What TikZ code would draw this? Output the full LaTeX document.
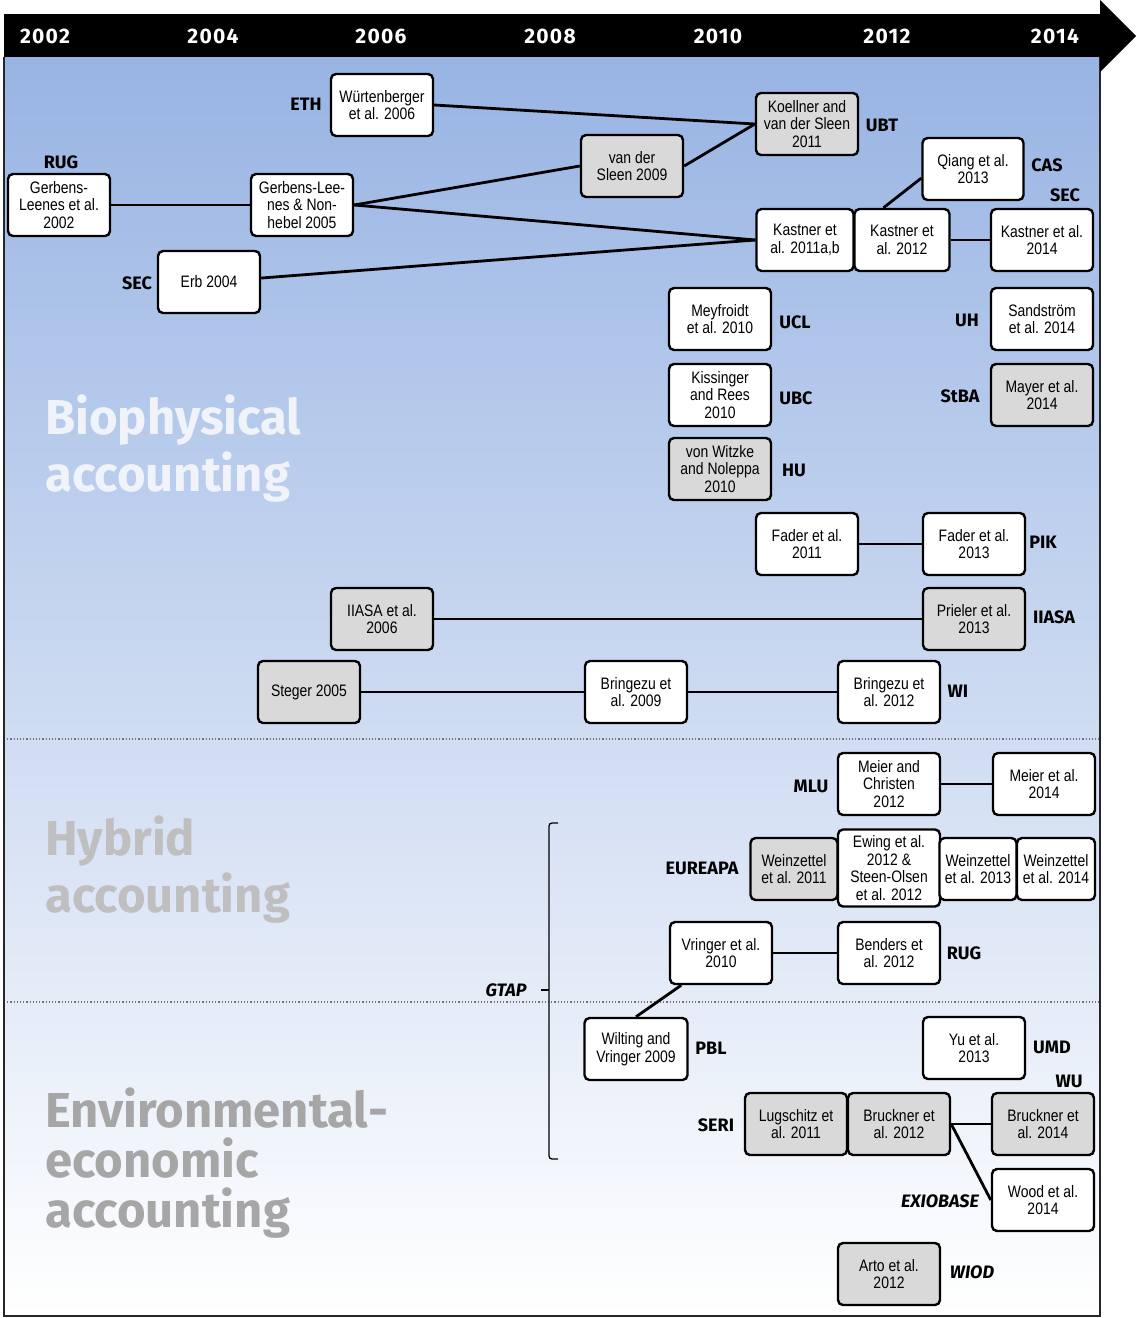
\documentclass[tikz,border=0pt]{standalone}
\usepackage{fontspec}
\setmainfont{Fira Sans}
\newfontfamily\boxfont[FakeStretch=0.84]{Liberation Sans}
\newfontfamily\yearfont[LetterSpace=6]{Fira Sans}
\usetikzlibrary{positioning}

\definecolor{bgtop}{RGB}{152,180,227}
\definecolor{bgmid}{RGB}{210,222,241}
\definecolor{paperbox}{RGB}{217,217,217}
\definecolor{biotext}{RGB}{240,244,250}
\definecolor{hybtext}{RGB}{191,191,191}
\definecolor{eeatext}{RGB}{166,166,166}

\tikzset{
    study/.style={draw, line width=2.4pt, rounded corners=5pt, fill=white,
        minimum width=102pt, minimum height=62pt, inner sep=1pt, align=center,
        font=\boxfont\fontsize{16.6}{17.8}\selectfont},
    gstudy/.style={study, fill=paperbox},
    inst/.style={font=\bfseries\fontsize{18}{20}\selectfont},
    dbase/.style={font=\bfseries\itshape\fontsize{18}{20}\selectfont},
    link/.style={line width=2.8pt},
    year/.style={text=white, font=\yearfont\bfseries\fontsize{21}{23}\selectfont},
    field/.style={anchor=north west, align=left, inner sep=0pt,
        font=\bfseries\fontsize{49}{57}\selectfont},
}

\begin{document}
\begin{tikzpicture}[x=1pt, y=-1pt]
    \useasboundingbox (0,0) rectangle (1136,1318);
    \shade[top color=bgtop, middle color=bgmid, bottom color=white] (4,57) rectangle (1100,1316);
    \draw[black!55, dotted, line width=1.2pt] (4,739) -- (1100,739);
    \draw[black!55, dotted, line width=1.2pt] (4,1002) -- (1100,1002);
    \draw[line width=2pt, black!85] (4,57) -- (4,1316) -- (1100,1316) -- (1100,57);

    \fill (4,14) rectangle (1100,57);
    \fill (1100,0) -- (1136,36) -- (1100,72) -- cycle;
    \node[year] (y02) at (45,36) {2002};
    \node[year] (y04) at (213,36) {2004};
    \node[year] (y06) at (381,36) {2006};
    \node[year] (y08) at (550,36) {2008};
    \node[year] (y10) at (718,36) {2010};
    \node[year] (y12) at (887,36) {2012};
    \node[year] (y14) at (1055,36) {2014};

    \node[field, text=biotext] (bio) at (45,395) {Biophysical\\accounting};
    \node[field, text=hybtext] (hyb) at (45,816) {Hybrid\\accounting};
    \node[field, text=eeatext, font=\bfseries\fontsize{49}{50}\selectfont] (eea) at (45,1088) {Environmental-\\economic\\accounting};

    \node[study] (wuert06) at (382,105) {Würtenberger\\et al. 2006};
    \node[gstudy] (koell11) at (807,124) {Koellner and\\van der Sleen\\2011};
    \node[gstudy] (vdsleen09) at (632,166) {van der\\Sleen 2009};
    \node[study] (gerb02) at (59,205) {Gerbens-\\Leenes et al.\\2002};
    \node[study] (gerb05) at (302,205) {Gerbens-Lee-\\nes \& Non-\\hebel 2005};
    \node[study, minimum width=101pt] (qiang13) at (973,169) {Qiang et al.\\2013};
    \node[study, minimum width=97pt] (kast11) at (805,240) {Kastner et\\al. 2011a,b};
    \node[study, minimum width=95pt] (kast12) at (902,240) {Kastner et\\al. 2012};
    \node[study] (kast14) at (1042,240) {Kastner et al.\\2014};
    \node[study] (erb04) at (209,282) {Erb 2004};
    \node[study] (meyf10) at (720,319) {Meyfroidt\\et al. 2010};
    \node[study] (sand14) at (1042,319) {Sandström\\et al. 2014};
    \node[study] (kiss10) at (720,395) {Kissinger\\and Rees\\2010};
    \node[gstudy] (mayer14) at (1042,395) {Mayer et al.\\2014};
    \node[gstudy] (witz10) at (720,469) {von Witzke\\and Noleppa\\2010};
    \node[study] (fader11) at (807,544) {Fader et al.\\2011};
    \node[study] (fader13) at (974,544) {Fader et al.\\2013};
    \node[gstudy] (iiasa06) at (382,619) {IIASA et al.\\2006};
    \node[gstudy] (prie13) at (974,619) {Prieler et al.\\2013};
    \node[gstudy] (steg05) at (309,692) {Steger 2005};
    \node[study] (bring09) at (636,692) {Bringezu et\\al. 2009};
    \node[study] (bring12) at (889,692) {Bringezu et\\al. 2012};

    \node[study] (meier12) at (889,784) {Meier and\\Christen\\2012};
    \node[study] (meier14) at (1044,784) {Meier et al.\\2014};
    \node[gstudy, minimum width=87pt] (wein11) at (794,869) {Weinzettel\\et al. 2011};
    \node[study, minimum height=77pt] (ewing12) at (889,868) {Ewing et al.\\2012 \&\\Steen-Olsen\\et al. 2012};
    \node[study, minimum width=77pt] (wein13) at (978,869) {Weinzettel\\et al. 2013};
    \node[study, minimum width=78pt] (wein14) at (1056,869) {Weinzettel\\et al. 2014};
    \node[study] (vring10) at (721,953) {Vringer et al.\\2010};
    \node[study] (bend12) at (889,953) {Benders et\\al. 2012};

    \node[study, minimum width=103pt] (wilt09) at (636,1049) {Wilting and\\Vringer 2009};
    \node[study] (yu13) at (974,1048) {Yu et al.\\2013};
    \node[gstudy] (lugs11) at (796,1124) {Lugschitz et\\al. 2011};
    \node[gstudy] (bruck12) at (899,1124) {Bruckner et\\al. 2012};
    \node[gstudy] (bruck14) at (1043,1124) {Bruckner et\\al. 2014};
    \node[study] (wood14) at (1043,1200) {Wood et al.\\2014};
    \node[gstudy] (arto12) at (889,1274) {Arto et al.\\2012};

    \node[inst] (lETH) at (306,104) {ETH};
    \node[inst] (lUBT) at (882,125) {UBT};
    \node[inst] (lRUG) at (61,162) {RUG};
    \node[inst] (lCAS) at (1047,165) {CAS};
    \node[inst] (lSEC) at (1065,195) {SEC};
    \node[inst] (lSECb) at (137,283) {SEC};
    \node[inst] (lUCL) at (795,322) {UCL};
    \node[inst] (lUH) at (967,320) {UH};
    \node[inst] (lUBC) at (796,398) {UBC};
    \node[inst] (lStBA) at (960,396) {StBA};
    \node[inst] (lHU) at (794,470) {HU};
    \node[inst] (lPIK) at (1043,542) {PIK};
    \node[inst] (lIIASA) at (1054,617) {IIASA};
    \node[inst] (lWI) at (958,691) {WI};
    \node[inst] (lMLU) at (811,786) {MLU};
    \node[inst] (lEUREAPA) at (702,868) {EUREAPA};
    \node[inst] (lRUGb) at (964,953) {RUG};
    \node[inst] (lPBL) at (711,1048) {PBL};
    \node[inst] (lUMD) at (1052,1047) {UMD};
    \node[inst] (lWU) at (1069,1081) {WU};
    \node[inst] (lSERI) at (716,1125) {SERI};
    \node[dbase] (lEXIO) at (940,1201) {EXIOBASE};
    \node[dbase] (lWIOD) at (972,1272) {WIOD};
    \node[dbase] (lGTAP) at (506,990) {GTAP};

    \draw[line width=1.3pt, rounded corners=3pt] (558,823) -- (549,823) -- (549,1159) -- (558,1159);
    \draw[line width=1.3pt] (549,990) -- (541,990);

    \draw[link] (wuert06.east) -- (koell11.west);
    \draw[link] (vdsleen09.east) -- (koell11.west);
    \draw[link] (gerb02) -- (gerb05);
    \draw[link] (gerb05.east) -- (vdsleen09.west);
    \draw[link] (gerb05.east) -- (kast11.west);
    \draw[link] (erb04) -- (kast11.west);
    \draw[link] (kast12.120) -- (qiang13.190);
    \draw[link] (kast12) -- (kast14);
    \draw[link] (fader11) -- (fader13);
    \draw[link] (iiasa06) -- (prie13);
    \draw[link] (steg05) -- (bring09);
    \draw[link] (bring09) -- (bring12);
    \draw[link] (meier12) -- (meier14);
    \draw[link] (vring10) -- (bend12);
    \draw[link] (vring10.219) -- (wilt09.north);
    \draw[link] (bruck12) -- (bruck14);
    \draw[link] (bruck12.east) -- (wood14.west);
\end{tikzpicture}
\end{document}
